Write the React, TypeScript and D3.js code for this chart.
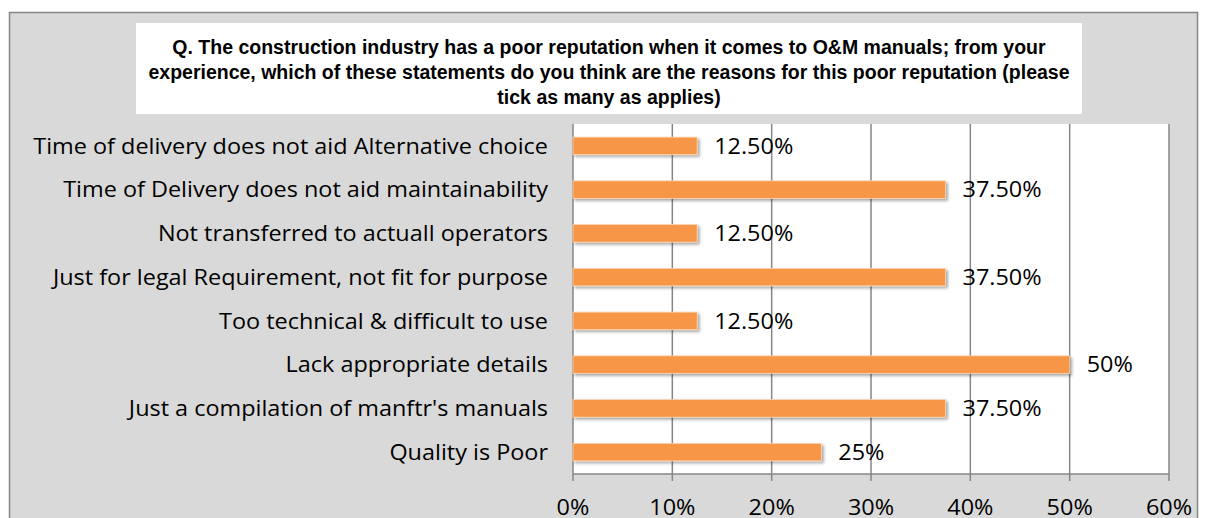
import React from 'react';
import * as d3 from 'd3';

// Survey answers, top to bottom as shown
const categories = [
  'Time of delivery does not aid Alternative choice',
  'Time of Delivery does not aid maintainability',
  'Not transferred to actuall operators',
  'Just for legal Requirement, not fit for purpose',
  'Too technical & difficult to use',
  'Lack appropriate details',
  "Just a compilation of manftr's manuals",
  'Quality is Poor',
];
const values = [0.125, 0.375, 0.125, 0.375, 0.125, 0.5, 0.375, 0.25];
const valueLabels = ['12.50%', '37.50%', '12.50%', '37.50%', '12.50%', '50%', '37.50%', '25%'];
const ticks = [0, 0.1, 0.2, 0.3, 0.4, 0.5, 0.6];
const titleLines = [
  'Q. The construction industry has a poor reputation when it comes to O&M manuals; from your',
  'experience, which of these statements do you think are the reasons for this poor reputation (please',
  'tick as many as applies)',
];

const width = 1206;
const height = 518;
const plot = { left: 573, right: 1169, top: 124, bottom: 474 };
const labelFont = '"Open Sans", Lato, sans-serif';
const labelSize = 22;
const stretch = 1.065; // the original font is a bit wider than Open Sans

const App: React.FC = () => {
  const x = d3.scaleLinear().domain([0, 0.6]).range([plot.left, plot.right]);
  const y = d3
    .scaleBand<string>()
    .domain(categories)
    .range([plot.top, plot.bottom])
    .paddingInner(0.6)
    .paddingOuter(0.3);
  const fmt = d3.format('.0%');
  const mid = (c: string) => (y(c) ?? 0) + y.bandwidth() / 2;

  return (
    <svg
      width={width}
      height={height}
      style={{ position: 'absolute', left: 0, top: 0, background: '#fff' }}
    >
      <defs>
        <filter id="shadow" x="-5%" y="-30%" width="115%" height="180%">
          <feDropShadow dx="2" dy="2" stdDeviation="1.5" floodColor="#000" floodOpacity="0.35" />
        </filter>
      </defs>

      {/* outer chart frame */}
      <rect x={9.5} y={12.5} width={1188} height={520} fill="#d9d9d9" stroke="#868686" strokeWidth={1.5} />

      {/* title box */}
      <rect x={136} y={23} width={946} height={91} fill="#fff" />
      <text
        textAnchor="middle"
        fontFamily='"Liberation Sans", Arial, sans-serif'
        fontWeight="bold"
        fontSize={19.5}
        fill="#000"
      >
        {titleLines.map((t, i) => (
          <tspan key={i} x={609} y={54 + i * 25}>
            {t}
          </tspan>
        ))}
      </text>

      {/* plot area */}
      <rect x={plot.left} y={plot.top} width={plot.right - plot.left} height={plot.bottom - plot.top} fill="#fff" />

      {/* gridlines + ticks */}
      {ticks.map((t) => (
        <line key={t} x1={x(t)} x2={x(t)} y1={plot.top} y2={plot.bottom + 7} stroke="#868686" strokeWidth={1.5} />
      ))}
      <line x1={plot.left} x2={plot.right} y1={plot.bottom} y2={plot.bottom} stroke="#868686" strokeWidth={1.5} />

      {/* bars */}
      {categories.map((c, i) => (
        <rect
          key={c}
          x={x(0)}
          y={y(c)}
          width={x(values[i]) - x(0)}
          height={y.bandwidth()}
          fill="#f79646"
          stroke="#fbd3b4"
          strokeWidth={0.8}
          filter="url(#shadow)"
        />
      ))}

      {/* value labels */}
      {categories.map((c, i) => (
        <text
          key={c}
          transform={`translate(${x(values[i]) + 17},${mid(c)}) scale(${stretch},1)`}
          dy="0.35em"
          fontFamily={labelFont}
          fontSize={labelSize}
          fill="#000"
        >
          {valueLabels[i]}
        </text>
      ))}

      {/* category labels */}
      {categories.map((c) => (
        <text
          key={c}
          transform={`translate(548,${mid(c)}) scale(${stretch},1)`}
          dy="0.35em"
          textAnchor="end"
          fontFamily={labelFont}
          fontSize={labelSize}
          fill="#000"
        >
          {c}
        </text>
      ))}

      {/* x tick labels */}
      {ticks.map((t) => (
        <text
          key={t}
          transform={`translate(${x(t)},507) scale(${stretch},1)`}
          dy="0.35em"
          textAnchor="middle"
          fontFamily={labelFont}
          fontSize={labelSize}
          fill="#000"
        >
          {fmt(t)}
        </text>
      ))}
    </svg>
  );
};

export default App;
